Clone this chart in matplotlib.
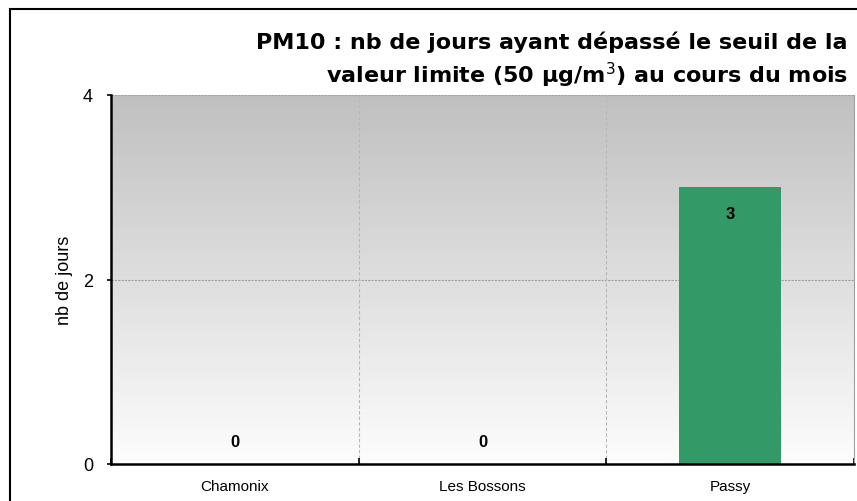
import numpy as np
import matplotlib.pyplot as plt
from matplotlib.patches import Rectangle

# data
stations = ["Chamonix", "Les Bossons", "Passy"]
nb_jours = [0, 0, 3]
y_ticks = [0, 2, 4]

fig = plt.figure(figsize=(8.57, 5.02), dpi=100)
fig.patch.set_facecolor("white")

# outer frame (cut off on the right and bottom like the original)
fig.patches.append(Rectangle((10 / 857, -0.1), 1.1, 1 - 10 / 502 + 0.1,
                             transform=fig.transFigure, fill=False,
                             edgecolor="black", linewidth=1.5))

ax = fig.add_axes([111 / 857, 1 - 465 / 502, (854 - 111) / 857, (465 - 96) / 502])

x = np.arange(len(stations))
ax.set_xlim(-0.5, len(stations) - 0.5)
ax.set_ylim(0, 4)

# white (bottom) -> grey (top) gradient background
grad = np.linspace(0, 1, 256).reshape(-1, 1)
bottom = np.array([253, 253, 253]) / 255
top = np.array([192, 192, 192]) / 255
img = bottom + (top - bottom) * grad[..., None]
ax.imshow(img, extent=[-0.5, len(stations) - 0.5, 0, 4], aspect="auto",
          origin="lower", zorder=0)

# grid
for yv in y_ticks[1:]:
    ax.axhline(yv, color="#a0a0a0", linestyle=(0, (2, 1)), linewidth=0.8, zorder=1)
for xb in np.arange(0.5, len(stations) - 0.5, 1):
    ax.axvline(xb, color="#b8b8b8", linestyle=(0, (3, 2)), linewidth=0.8, zorder=1)

ax.bar(x, nb_jours, width=0.41, color="#339966", zorder=2)

for xi, v in zip(x, nb_jours):
    off = -26 if v > 0 else 22
    ax.annotate(str(v), (xi, v), xytext=(0, off), textcoords="offset pixels",
                ha="center", va="center", fontsize=12, fontweight="bold",
                family="Liberation Sans", zorder=3)

# axes styling
ax.spines["left"].set_linewidth(1.8)
ax.spines["bottom"].set_linewidth(1.8)
ax.spines["top"].set_visible(False)
ax.spines["right"].set_color("#a0a0a0")
ax.spines["right"].set_linestyle((0, (2, 1)))
ax.spines["right"].set_linewidth(0.8)

ax.set_yticks(y_ticks)
ax.set_yticklabels([str(t) for t in y_ticks], fontsize=13, family="Liberation Sans")
ax.tick_params(axis="y", length=3, width=1.2, pad=10)

ax.set_xticks(np.arange(-0.5, len(stations), 1), minor=False)
ax.set_xticklabels([])
ax.tick_params(axis="x", which="major", length=4, width=1.2, direction="in")
ax.set_xticks(x, minor=True)
ax.set_xticklabels(stations, minor=True, fontsize=11, family="Liberation Sans")
ax.tick_params(axis="x", which="minor", length=0, pad=11)

ax.set_ylabel("nb de jours", fontsize=13, family="Liberation Sans", labelpad=7)

fig.text(848 / 857, 1 - 42 / 502, "PM10 : nb de jours ayant dépassé le seuil de la",
         ha="right", va="center", fontsize=16, fontweight="bold")
fig.text(848 / 857, 1 - 75 / 502, "valeur limite (50 µg/m$^{3}$) au cours du mois",
         ha="right", va="center", fontsize=16, fontweight="bold")

fig.savefig("out.png", dpi=100)
